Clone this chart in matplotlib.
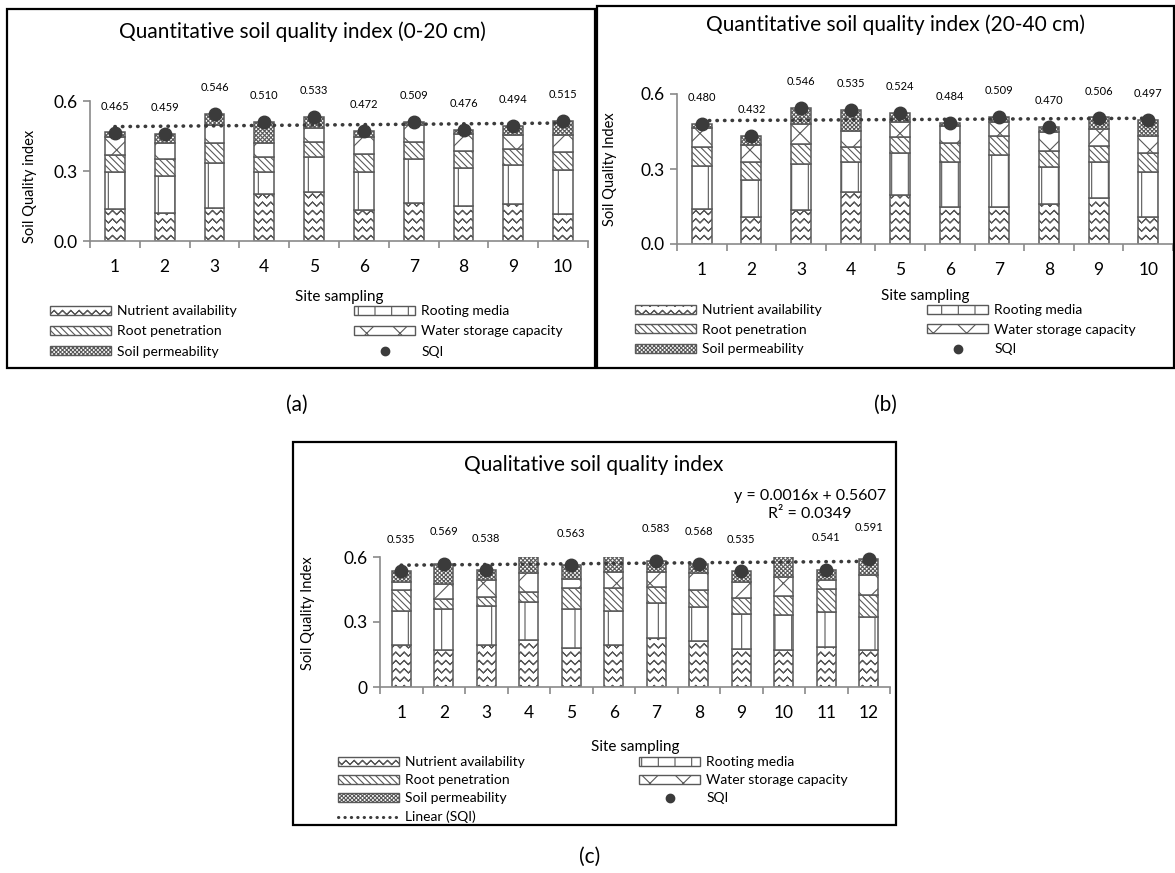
import numpy as np
import matplotlib
matplotlib.use("Agg")
import matplotlib.pyplot as plt
import matplotlib.hatch as mhatch
from matplotlib.path import Path
from matplotlib.patches import Patch, Rectangle
from matplotlib.lines import Line2D

plt.rcParams['font.family'] = ['Lato', 'DejaVu Sans']
plt.rcParams['hatch.linewidth'] = 0.8

# ---- data ----
sites_a = list(range(1, 11))
nutrient_a = [0.137, 0.121, 0.143, 0.200, 0.211, 0.133, 0.161, 0.150, 0.157, 0.115]
rooting_a = [0.159, 0.158, 0.193, 0.096, 0.150, 0.163, 0.192, 0.165, 0.168, 0.189]
penetration_a = [0.072, 0.072, 0.082, 0.065, 0.064, 0.076, 0.072, 0.071, 0.071, 0.078]
water_a = [0.078, 0.067, 0.081, 0.061, 0.060, 0.074, 0.071, 0.074, 0.057, 0.071]
permeability_a = [0.019, 0.041, 0.047, 0.088, 0.048, 0.026, 0.013, 0.016, 0.041, 0.062]
sqi_a = [0.465, 0.459, 0.546, 0.510, 0.533, 0.472, 0.509, 0.476, 0.494, 0.515]

sites_b = list(range(1, 11))
nutrient_b = [0.141, 0.108, 0.137, 0.208, 0.198, 0.148, 0.148, 0.161, 0.185, 0.110]
rooting_b = [0.173, 0.149, 0.184, 0.119, 0.165, 0.179, 0.210, 0.146, 0.142, 0.177]
penetration_b = [0.076, 0.070, 0.079, 0.063, 0.067, 0.076, 0.076, 0.067, 0.067, 0.076]
water_b = [0.075, 0.071, 0.080, 0.064, 0.060, 0.071, 0.053, 0.073, 0.066, 0.071]
permeability_b = [0.015, 0.034, 0.066, 0.081, 0.034, 0.010, 0.022, 0.023, 0.046, 0.063]
sqi_b = [0.480, 0.432, 0.546, 0.535, 0.524, 0.484, 0.509, 0.470, 0.506, 0.497]

sites_c = list(range(1, 13))
nutrient_c = [0.193, 0.173, 0.196, 0.219, 0.180, 0.193, 0.224, 0.211, 0.177, 0.173, 0.185, 0.173]
rooting_c = [0.157, 0.185, 0.177, 0.174, 0.182, 0.157, 0.162, 0.159, 0.162, 0.159, 0.159, 0.148]
penetration_c = [0.097, 0.046, 0.043, 0.047, 0.093, 0.105, 0.077, 0.077, 0.070, 0.088, 0.108, 0.103]
water_c = [0.039, 0.071, 0.078, 0.087, 0.042, 0.077, 0.069, 0.077, 0.077, 0.089, 0.042, 0.093]
permeability_c = [0.049, 0.094, 0.044, 0.084, 0.066, 0.079, 0.051, 0.044, 0.049, 0.099, 0.047, 0.074]
sqi_c = [0.535, 0.569, 0.538, 0.611, 0.563, 0.611, 0.583, 0.568, 0.535, 0.608, 0.541, 0.591]

component_names = ['Nutrient availability', 'Rooting media', 'Root penetration',
                   'Water storage capacity', 'Soil permeability']


# zigzag hatch for nutrient availability (takes the place of the '*' stars)
# each row runs out and back along itself so the filled area stays zero
class ZigZagHatch(mhatch.HatchPatternBase):
    def __init__(self, hatch, density):
        self.num_rows = int(hatch.count('*') * density)
        self.per_row = 4 * self.num_rows + 1
        self.num_vertices = self.num_rows * self.per_row

    def set_vertices_and_codes(self, vertices, codes):
        n = self.num_rows
        k = np.arange(2 * n + 1)
        k = np.concatenate([k, k[-2::-1]])
        for i in range(n):
            s = slice(i * self.per_row, (i + 1) * self.per_row)
            vertices[s, 0] = k / (2 * n)
            vertices[s, 1] = (i + 0.25) / n + (k % 2) * 0.5 / n
            codes[s] = Path.LINETO
            codes[i * self.per_row] = Path.MOVETO


mhatch._hatch_types = [t for t in mhatch._hatch_types if t is not mhatch.Stars] + [ZigZagHatch]

hatches = ['**', '|', '\\\\\\\\\\', 'x', 'xxxxxxxx']
edge = '#595959'
dot = '#3b3b3b'
axis_col = '#8a8a8a'
trend_ls = (0, (0.1, 2.0))

W, H = 1175, 873
fig = plt.figure(figsize=(W / 100, H / 100), dpi=100)


def px_axes(left, top, right, bottom):
    return fig.add_axes([left / W, 1 - bottom / H, (right - left) / W, (bottom - top) / H])


def px_text(x, y, s, **kw):
    fig.text(x / W, 1 - y / H, s, ha=kw.pop('ha', 'center'), va=kw.pop('va', 'center'), **kw)


def px_box(x0, y0, x1, y1):
    fig.add_artist(Rectangle((x0 / W, 1 - y1 / H), (x1 - x0) / W, (y1 - y0) / H,
                             transform=fig.transFigure, fill=False, ec='black', lw=1.6))


def px_legend(handles, labels, x, y, spacing):
    leg = fig.legend(handles, labels, loc='upper left', bbox_to_anchor=(x / W, 1 - y / H),
                     frameon=False, fontsize=10, handlelength=4.4, handleheight=0.6,
                     handletextpad=0.45, labelspacing=spacing, borderpad=0, borderaxespad=0)
    return leg


def draw_panel(ax, sites, parts, sqi, ylabel, ytick_labels, bar_w, lab_off, ylab_xy, xlab_y):
    x = np.array(sites)
    bottom = np.zeros(len(x))
    for vals, h in zip(parts, hatches):
        ax.bar(x, vals, bar_w, bottom=bottom, color='white', edgecolor=edge, lw=1.1, hatch=h, zorder=2)
        bottom += np.array(vals)

    # linear trend of SQI
    slope, icpt = np.polyfit(x, sqi, 1)
    ax.plot(x, slope * x + icpt, ls=trend_ls, dash_capstyle='round', color=dot, lw=2.6, zorder=3)

    shown = [v <= 0.6 for v in sqi]
    xs = x[shown]
    vs = np.array(sqi)[shown]
    ax.plot(xs, vs, 'o', color=dot, ms=9, zorder=4, clip_on=False)
    for xi, v in zip(xs, vs):
        ax.annotate(f'{v:.3f}', (xi, v), xytext=(0, lab_off), textcoords='offset points',
                    ha='center', va='center', fontsize=8, annotation_clip=False)

    ax.set_xlim(0.5, len(x) + 0.5)
    ax.set_ylim(0, 0.6)
    ax.set_yticks([0, 0.3, 0.6])
    ax.set_yticklabels(ytick_labels)
    ax.set_xticks(x)
    ax.set_xticks(np.arange(0.5, len(x) + 1), minor=True)
    ax.tick_params(axis='x', which='major', length=0, pad=13, labelsize=12.5)
    ax.tick_params(axis='x', which='minor', length=5, color=axis_col, width=1.2)
    ax.tick_params(axis='y', length=5, color=axis_col, width=1.2, labelsize=12.5, pad=4)
    for side in ['top', 'right']:
        ax.spines[side].set_visible(False)
    for side in ['left', 'bottom']:
        ax.spines[side].set_color(axis_col)
        ax.spines[side].set_linewidth(1.2)
    ax.set_ylabel(ylabel, fontsize=10.5)
    ax.yaxis.set_label_coords(*ylab_xy)
    ax.set_xlabel('Site sampling', fontsize=11)
    ax.xaxis.set_label_coords(0.5, xlab_y)


def legend_handles():
    return [Patch(facecolor='white', edgecolor=edge, hatch=h, lw=1) for h in hatches]


sqi_handle = Line2D([], [], marker='o', ls='none', color=dot, ms=6)
trend_handle = Line2D([], [], ls=trend_ls, dash_capstyle='round', color=dot, lw=2.2)

# ---- (a) ----
px_box(7, 9, 595, 368)
ax_a = px_axes(90, 101, 588, 241)
draw_panel(ax_a, sites_a, [nutrient_a, rooting_a, penetration_a, water_a, permeability_a], sqi_a,
           'Soil Quality index', ['0.0', '0.3', '0.6'], 0.40, 19, (-0.106, 0.39), -0.35)
px_text(302, 32, 'Quantitative soil quality index (0-20 cm)', fontsize=15)
ph = legend_handles()
px_legend([ph[0], ph[2], ph[4]], [component_names[0], component_names[2], component_names[4]], 50, 305, 0.6)
px_legend([ph[1], ph[3], sqi_handle], [component_names[1], component_names[3], 'SQI'], 354, 305, 0.6)
px_text(297, 405, '(a)', fontsize=15)

# ---- (b) ----
px_box(597, 6, 1174, 368)
ax_b = px_axes(677, 94, 1173, 244)
draw_panel(ax_b, sites_b, [nutrient_b, rooting_b, penetration_b, water_b, permeability_b], sqi_b,
           'Soil Quality Index', ['0.0', '0.3', '0.6'], 0.40, 19, (-0.121, 0.5), -0.30)
px_text(895, 25, 'Quantitative soil quality index (20-40 cm)', fontsize=15)
ph = legend_handles()
px_legend([ph[0], ph[2], ph[4]], [component_names[0], component_names[2], component_names[4]], 635, 304, 0.55)
px_legend([ph[1], ph[3], sqi_handle], [component_names[1], component_names[3], 'SQI'], 927, 304, 0.55)
px_text(885, 405, '(b)', fontsize=15)

# ---- (c) ----
px_box(293, 442, 896, 825)
ax_c = px_axes(380, 557, 890, 687)
draw_panel(ax_c, sites_c, [nutrient_c, rooting_c, penetration_c, water_c, permeability_c], sqi_c,
           'Soil Quality Index', ['0', '0.3', '0.6'], 0.44, 23, (-0.127, 0.57), -0.41)
px_text(594, 465, 'Qualitative soil quality index', fontsize=15)
px_text(810, 505, 'y = 0.0016x + 0.5607\nR² = 0.0349', fontsize=11.5, multialignment='center',
        linespacing=1.3)
ph = legend_handles()
px_legend([ph[0], ph[2], ph[4], trend_handle],
          [component_names[0], component_names[2], component_names[4], 'Linear (SQI)'], 338, 756, 0.45)
px_legend([ph[1], ph[3], sqi_handle], [component_names[1], component_names[3], 'SQI'], 639, 756, 0.45)
px_text(590, 857, '(c)', fontsize=15)

fig.savefig('out.png', dpi=100, facecolor='white')
